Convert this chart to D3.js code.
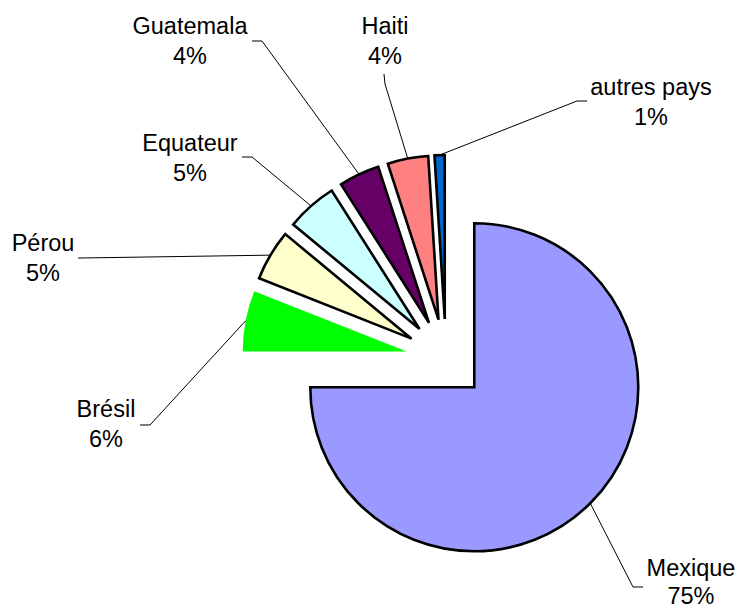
<!DOCTYPE html>
<html>
<head>
<meta charset="utf-8">
<script src="https://cdn.jsdelivr.net/npm/d3@7"></script>
<style>
  html, body { margin: 0; padding: 0; background: #fff; }
  svg { display: block; }
  text { font-family: "Liberation Sans", Arial, sans-serif; font-size: 23.5px; fill: #000; }
</style>
</head>
<body>
<svg id="chart" width="737" height="610"></svg>
<script>
// ---- data ----
const categories = ["Mexique", "Brésil", "Pérou", "Equateur", "Guatemala", "Haiti", "autres pays"];
const values = [75, 6, 5, 5, 4, 4, 1];
const percentLabels = ["75%", "6%", "5%", "5%", "4%", "4%", "1%"];
const colors = ["#9999FF", "#00FF00", "#FFFFCC", "#CCFFFF", "#660066", "#FF8080", "#0066CC"];
const strokes = [true, false, true, true, true, true, true];

// ---- layout ----
const cx = 446, cy = 359, radius = 164, explode = 40;
// label anchor (text centre x, first baseline y), line gap and leader elbow points
const labelPos = [
  { x: 691, y: 576, gap: 28, elbow: [[633, 587], [643, 587]] },
  { x: 106, y: 417, gap: 30, elbow: [[150, 425], [140, 425]] },
  { x: 43,  y: 251, gap: 30, elbow: [[80, 258], [78, 258]] },
  { x: 190, y: 151, gap: 30, elbow: [[252, 157], [242, 157]] },
  { x: 190, y: 34,  gap: 30, elbow: [[262, 41], [252, 41]] },
  { x: 385, y: 34,  gap: 30, elbow: [[385, 84], [384, 74]] },
  { x: 651, y: 95,  gap: 30, elbow: [[577, 101], [587, 101]] }
];

const svg = d3.select("#chart");
const data = categories.map((c, i) => ({ name: c, value: values[i], label: percentLabels[i], color: colors[i], stroke: strokes[i], pos: labelPos[i] }));

const pie = d3.pie().sort(null).value(d => d.value).startAngle(0).endAngle(2 * Math.PI);
const arc = d3.arc().innerRadius(0).outerRadius(radius);
const arcs = pie(data);

const g = svg.append("g").attr("transform", `translate(${cx},${cy})`);

arcs.forEach(a => {
  const mid = (a.startAngle + a.endAngle) / 2;
  a.ox = explode * Math.sin(mid); a.oy = -explode * Math.cos(mid); a.mid = mid;
});

// slices
g.selectAll("path.slice").data(arcs).join("path")
  .attr("class", "slice")
  .attr("transform", d => `translate(${d.ox},${d.oy})`)
  .attr("d", arc)
  .attr("fill", d => d.data.color)
  .attr("stroke", d => d.data.stroke ? "#000" : "none")
  .attr("stroke-width", 2.6)
  .attr("stroke-linejoin", "miter");

// leader lines
arcs.forEach(a => {
  const ex = cx + a.ox + radius * Math.sin(a.mid);
  const ey = cy + a.oy - radius * Math.cos(a.mid);
  const pts = [[ex, ey]].concat(a.data.pos.elbow);
  svg.append("path")
    .attr("d", d3.line()(pts))
    .attr("fill", "none")
    .attr("stroke", "#000")
    .attr("stroke-width", 1);
});

// labels
arcs.forEach(a => {
  const t = svg.append("text").attr("text-anchor", "middle");
  t.append("tspan").attr("x", a.data.pos.x).attr("y", a.data.pos.y).text(a.data.name);
  t.append("tspan").attr("x", a.data.pos.x).attr("y", a.data.pos.y + a.data.pos.gap).text(a.data.label);
});
</script>
</body>
</html>
